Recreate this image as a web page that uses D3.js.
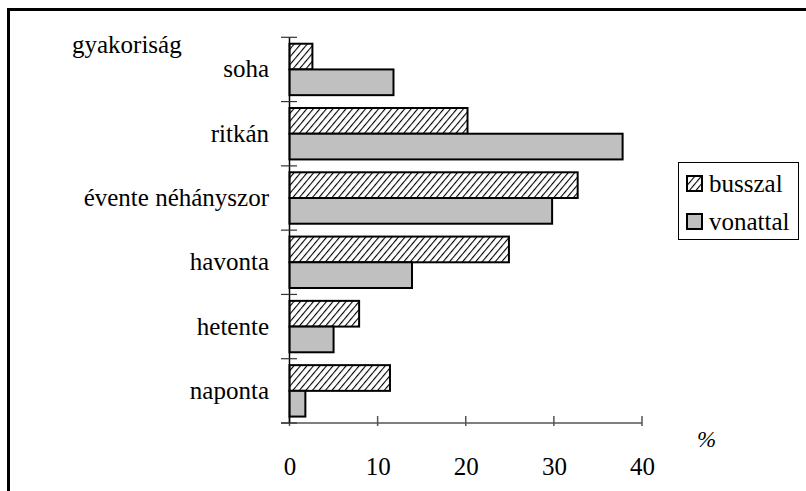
<!DOCTYPE html>
<html>
<head>
<meta charset="utf-8">
<script src="https://cdn.jsdelivr.net/npm/d3@7"></script>
<style>
  svg text { font-family: "Liberation Serif", Tinos, "Times New Roman", Times !important; }
</style>
</head>
<body style="margin:0">
<svg id="chart" width="806" height="491"></svg>
<script>
const categories = ["soha", "ritkán", "évente néhányszor", "havonta", "hetente", "naponta"];
const seriesNames = ["busszal", "vonattal"];
const busszal = [2.6, 20.2, 32.7, 24.9, 7.9, 11.4];
const vonattal = [11.8, 37.8, 29.8, 13.9, 5.0, 1.8];
const xTicks = [0, 10, 20, 30, 40];
const axisTitleY = "gyakoriság";
const axisTitleX = "%";

const FONT = "Liberation Serif";
const FS = 25;

const svg = d3.select("#chart").attr("font-family", FONT);
const defs = svg.append("defs");
const pat = defs.append("pattern")
  .attr("id", "hatch").attr("patternUnits", "userSpaceOnUse")
  .attr("width", 5).attr("height", 5)
  .attr("patternTransform", "rotate(40)");
pat.append("rect").attr("width", 5).attr("height", 5).attr("fill", "#fff");
pat.append("line").attr("x1", 0).attr("y1", 0).attr("x2", 0).attr("y2", 5)
  .attr("stroke", "#000").attr("stroke-width", 2.2);

// outer frame
svg.append("rect").attr("x", 8.5).attr("y", 9.5).attr("width", 820).attr("height", 520)
  .attr("fill", "none").attr("stroke", "#000").attr("stroke-width", 3);

const x = d3.scaleLinear().domain([0, 40]).range([289.5, 642]);
const y = d3.scaleBand().domain(categories).range([37.3, 423]).paddingInner(0.2).paddingOuter(0.1);
const yFull = d3.scaleBand().domain(categories).range([37.3, 423]);
const ySub = d3.scaleBand().domain(seriesNames).range([0, y.bandwidth()]);

const data = categories.map((c, i) => ({ cat: c, values: [
  { s: "busszal", v: busszal[i] }, { s: "vonattal", v: vonattal[i] } ] }));

// x axis
const xAxis = d3.axisBottom(x).tickValues(xTicks).tickSize(0).tickPadding(34);
const gx = svg.append("g").attr("transform", "translate(0,423)").call(xAxis);
gx.attr("font-family", FONT).attr("font-size", FS);
gx.select(".domain").remove();
gx.selectAll("text").attr("font-family", FONT).attr("font-size", FS).attr("fill", "#000");
svg.append("line").attr("x1", 281).attr("x2", x(40)).attr("y1", 423).attr("y2", 423)
  .attr("stroke", "#555").attr("stroke-width", 1.5);
svg.selectAll(".xt").data(xTicks).join("line").attr("class", "xt")
  .attr("x1", d => x(d)).attr("x2", d => x(d)).attr("y1", 416).attr("y2", 426)
  .attr("stroke", "#555").attr("stroke-width", 1.5);

// bars
const groups = svg.selectAll(".grp").data(data).join("g").attr("class", "grp")
  .attr("transform", d => `translate(0,${y(d.cat)})`);
groups.selectAll("rect").data(d => d.values).join("rect")
  .attr("x", x(0)).attr("y", d => ySub(d.s))
  .attr("width", d => x(d.v) - x(0)).attr("height", ySub.bandwidth())
  .attr("fill", d => d.s === "busszal" ? "url(#hatch)" : "#c0c0c0")
  .attr("stroke", "#000").attr("stroke-width", 2);

// y axis line and ticks
svg.append("line").attr("x1", x(0)).attr("x2", x(0)).attr("y1", 37.3).attr("y2", 423)
  .attr("stroke", "#000").attr("stroke-width", 1.5);
const bounds = categories.map(c => yFull(c)).concat([423]);
svg.selectAll(".yt").data(bounds).join("line").attr("class", "yt")
  .attr("x1", 281).attr("x2", 297).attr("y1", d => d).attr("y2", d => d)
  .attr("stroke", "#333").attr("stroke-width", 1.2);

// category labels
svg.selectAll(".cl").data(categories).join("text").attr("class", "cl")
  .attr("x", 269).attr("y", d => yFull(d) + yFull.bandwidth() / 2 + 8)
  .attr("text-anchor", "end").attr("font-size", FS).attr("font-family", FONT).text(d => d);

svg.append("text").attr("x", 72).attr("y", 53).attr("font-size", FS).attr("font-family", FONT).text(axisTitleY);
svg.append("text").attr("x", 697).attr("y", 447).attr("font-size", 23).attr("font-family", FONT)
  .attr("font-style", "italic").text(axisTitleX);

// legend
const lg = svg.append("g");
lg.append("rect").attr("x", 678.5).attr("y", 162.5).attr("width", 120).attr("height", 77)
  .attr("fill", "#fff").attr("stroke", "#000").attr("stroke-width", 1);
seriesNames.forEach((s, i) => {
  const yy = 176 + i * 38;
  lg.append("rect").attr("x", 687).attr("y", yy).attr("width", 15).attr("height", 15)
    .attr("fill", s === "busszal" ? "url(#hatch)" : "#c0c0c0")
    .attr("stroke", "#000").attr("stroke-width", 2);
  lg.append("text").attr("x", 709).attr("y", yy + 16).attr("font-size", FS).attr("font-family", FONT).text(s);
});
</script>
</body>
</html>
